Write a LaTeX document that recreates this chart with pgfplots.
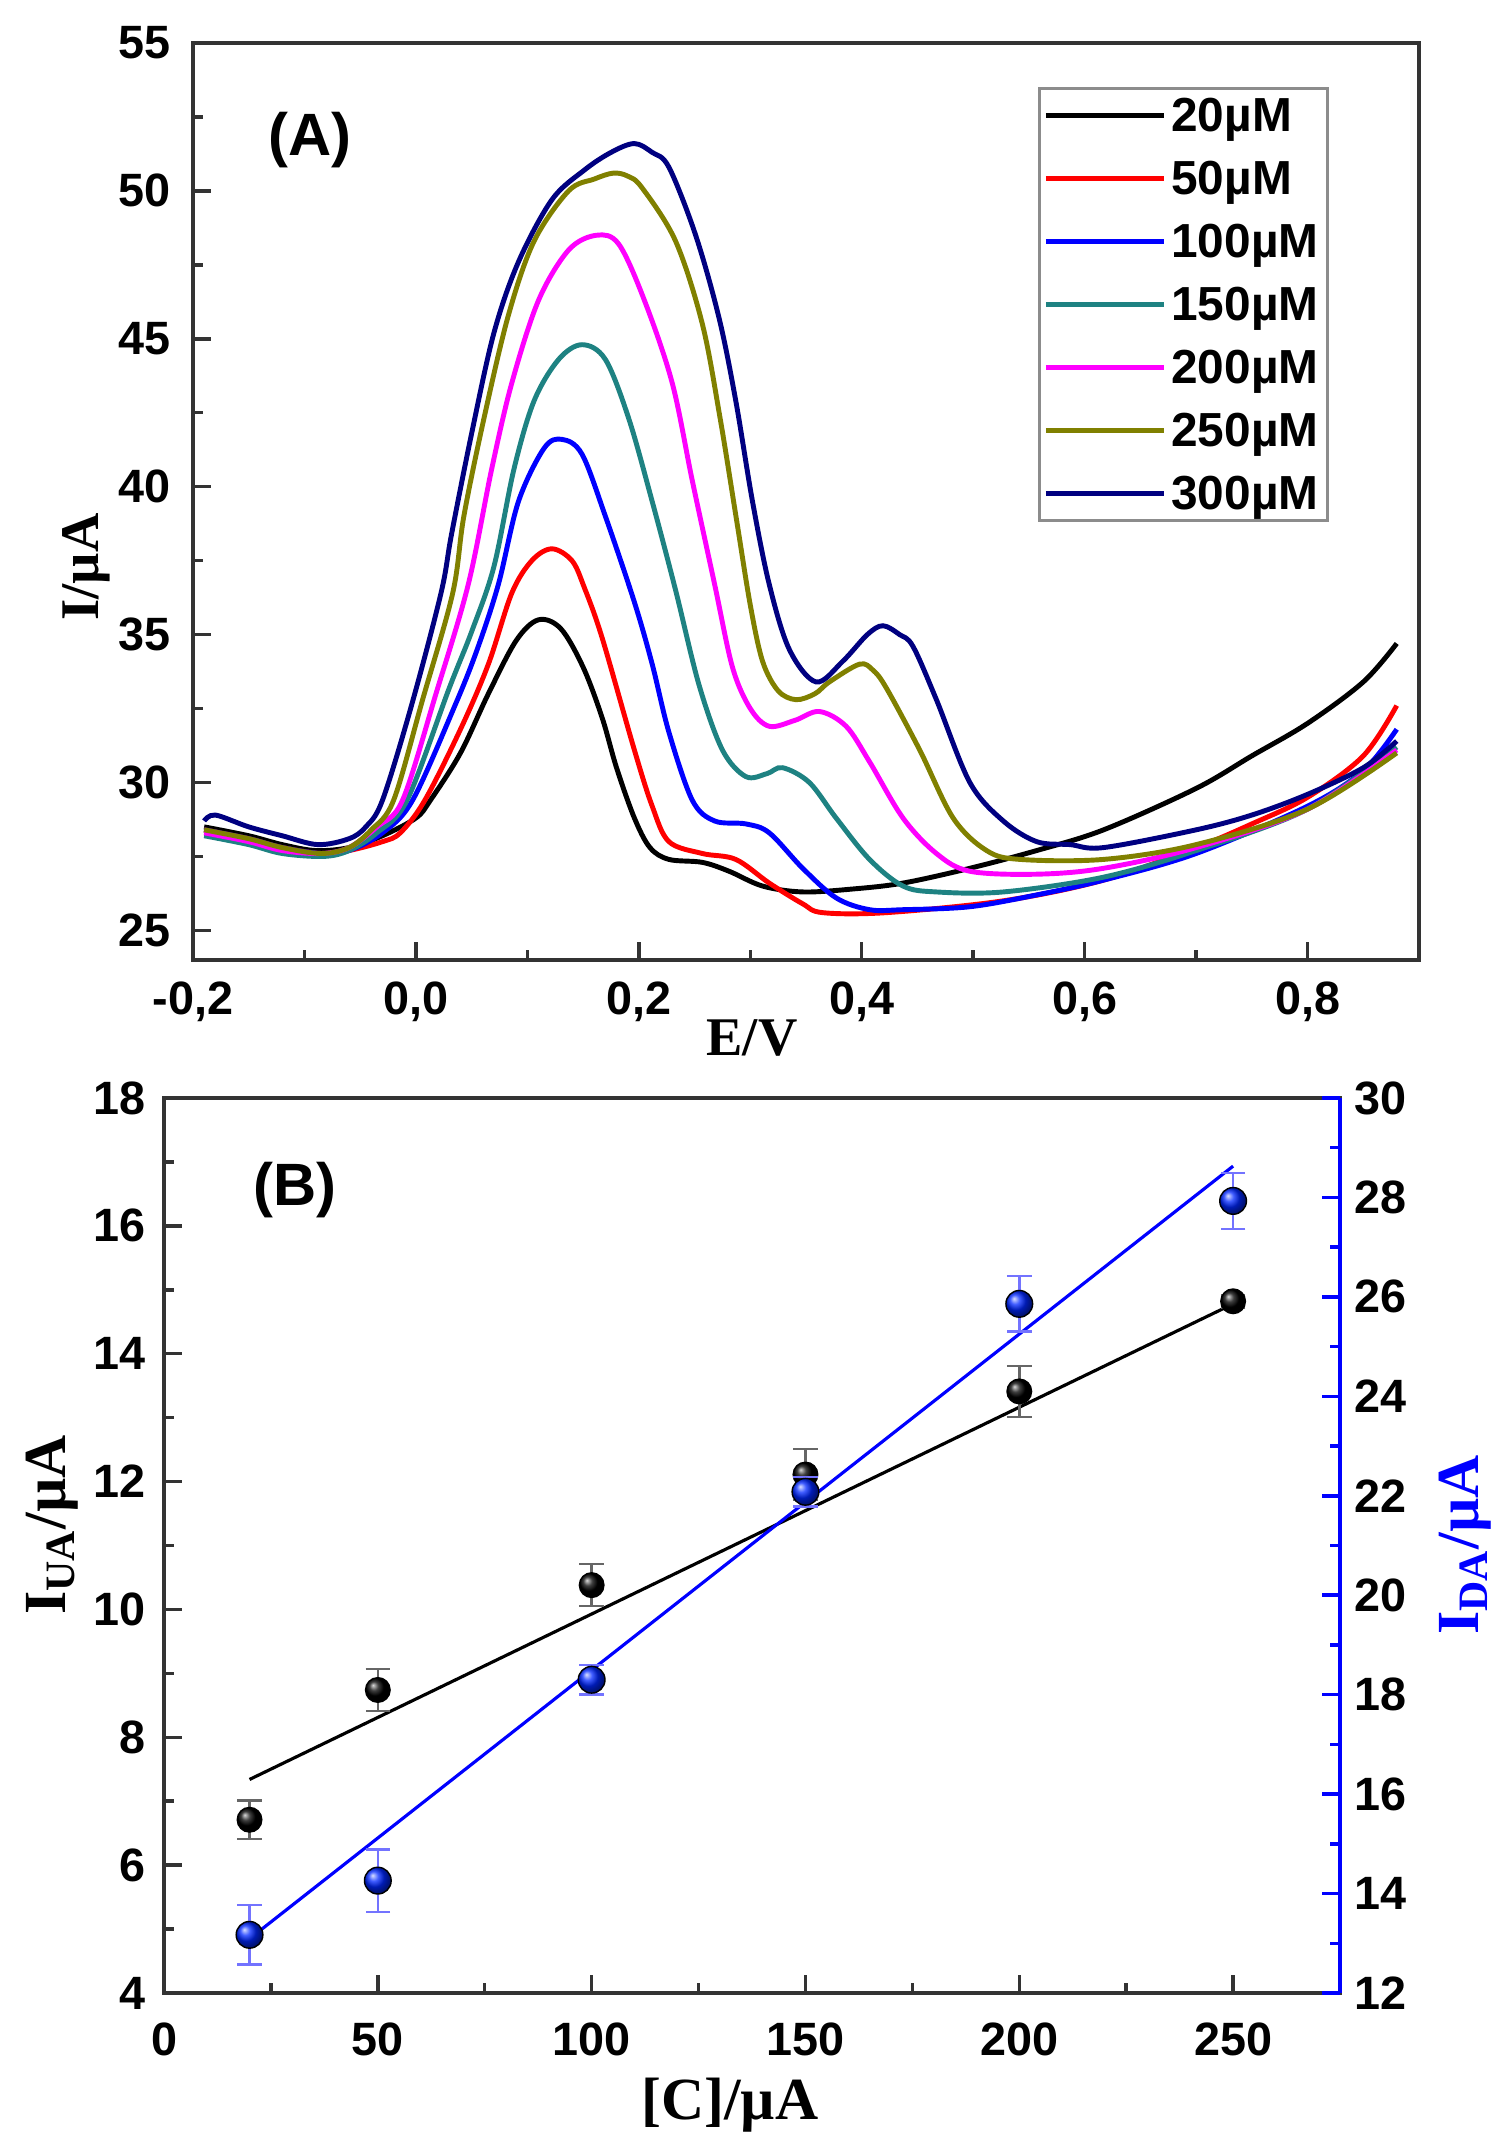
\documentclass[border=0pt]{standalone}
\usepackage{fontspec}
\setmainfont{Liberation Serif}
\newfontfamily\arial{Liberation Sans}
\usepackage{pgfplots}
\pgfplotsset{compat=1.18}
\definecolor{cteal}{RGB}{30,130,130}
\definecolor{colive}{RGB}{128,128,0}
\definecolor{cnavy}{RGB}{0,0,128}
\definecolor{cmag}{RGB}{255,0,255}
\definecolor{cred}{RGB}{255,0,0}
\definecolor{cblue}{RGB}{0,0,255}
\pgfplotsset{
  /pgf/number format/assume math mode=true,
  common/.style={
    scale only axis,
    axis line style={line width=1.1pt, black!80},
    every tick/.style={line width=1pt, black!80},
    major tick length=0.18cm, minor tick length=0.1cm,
    tick align=inside,
    tick label style={font=\arial\bfseries\fontsize{13.3}{14}\selectfont},
  }
}
\begin{document}
\begin{tikzpicture}
\path[use as bounding box] (0,0) rectangle (15,21.5);
% ---------------- Panel A ----------------
\begin{axis}[common,
  at={(1.93cm,11.90cm)}, anchor=south west,
  width=12.26cm, height=9.17cm,
  xmin=-0.2, xmax=0.9, ymin=24, ymax=55,
  xtick={-0.2,0,0.2,0.4,0.6,0.8}, minor x tick num=1,
  ytick={25,30,35,40,45,50,55}, minor y tick num=1,
  tick pos=left,
  xticklabel style={yshift=-2.7pt,/pgf/number format/.cd, fixed, fixed zerofill, precision=1, use comma},
  yticklabel style={xshift=-3pt},
  legend cell align=left,
  legend style={at={(rel axis cs:0.689,0.952)}, anchor=north west,
    draw=black!45, line width=0.8pt, inner sep=0.04cm,
    font=\arial\bfseries\fontsize{13.6}{14}\selectfont,
    nodes={inner sep=0.05cm, text height=0.34cm, text depth=0.02cm},
    row sep=0.17cm},
  legend image code/.code={\draw[#1, line width=1.5pt] (0cm,0cm) -- (1.18cm,0cm);},
  every axis plot/.append style={line width=1.4pt, smooth, tension=0.55},
]
\addplot[black] coordinates {
(-0.19,28.5) (-0.15,28.2) (-0.12,27.9) (-0.09,27.7) (-0.06,27.8) (-0.03,28.2) (0.0,28.8) (0.013,29.4)
(0.04,31.0) (0.065,33.0) (0.09,34.8) (0.11,35.5) (0.13,35.2) (0.15,33.9) (0.167,32.2) (0.18,30.5)
(0.196,28.8) (0.21,27.8) (0.227,27.4) (0.257,27.3) (0.281,27.0) (0.311,26.5) (0.347,26.3) (0.392,26.4)
(0.437,26.6) (0.497,27.1) (0.557,27.7) (0.617,28.4) (0.7,29.8) (0.75,30.9) (0.8,32.0) (0.85,33.4) (0.88,34.7)};
\addlegendentry{20µM}
\addplot[cred] coordinates {
(-0.19,28.4) (-0.15,28.1) (-0.12,27.8) (-0.085,27.6) (-0.06,27.7) (-0.03,28.0) (-0.014,28.3) (0.008,29.4)
(0.04,31.8) (0.065,34.0) (0.086,36.4) (0.104,37.5) (0.122,37.9) (0.14,37.5) (0.151,36.6) (0.167,34.9)
(0.196,31.1) (0.212,29.2) (0.227,28.0) (0.257,27.6) (0.287,27.4) (0.317,26.6) (0.347,25.9) (0.365,25.6)
(0.422,25.6) (0.527,26.0) (0.617,26.7) (0.7,27.8) (0.75,28.6) (0.8,29.5) (0.85,30.9) (0.88,32.6)};
\addlegendentry{50µM}
\addplot[cblue] coordinates {
(-0.19,28.4) (-0.15,28.1) (-0.12,27.8) (-0.085,27.6) (-0.06,27.7) (-0.03,28.3) (-0.003,29.4) (0.035,32.6)
(0.055,34.5) (0.074,36.7) (0.092,39.5) (0.115,41.3) (0.131,41.6) (0.149,41.1) (0.17,39.0) (0.196,36.1)
(0.212,34.0) (0.227,31.7) (0.248,29.4) (0.268,28.7) (0.296,28.6) (0.317,28.3) (0.347,27.1) (0.377,26.1)
(0.407,25.7) (0.437,25.7) (0.497,25.8) (0.557,26.2) (0.617,26.7) (0.7,27.6) (0.8,29.2) (0.85,30.4) (0.88,31.8)};
\addlegendentry{100µM}
\addplot[cteal] coordinates {
(-0.19,28.2) (-0.15,27.9) (-0.12,27.6) (-0.083,27.5) (-0.06,27.7) (-0.035,28.3) (-0.008,29.4) (0.03,33.2)
(0.05,35.1) (0.07,37.3) (0.088,40.6) (0.106,42.9) (0.128,44.3) (0.149,44.8) (0.17,44.3) (0.191,42.3)
(0.212,39.5) (0.233,36.5) (0.254,33.3) (0.275,31.1) (0.296,30.2) (0.315,30.3) (0.329,30.5) (0.353,30.0)
(0.377,28.8) (0.407,27.4) (0.437,26.5) (0.467,26.3) (0.527,26.3) (0.617,26.8) (0.7,27.7) (0.8,29.1) (0.88,31.2)};
\addlegendentry{150µM}
\addplot[cmag] coordinates {
(-0.19,28.3) (-0.15,28.0) (-0.12,27.7) (-0.085,27.6) (-0.06,27.8) (-0.035,28.5) (-0.012,29.4) (0.018,33.0)
(0.047,36.7) (0.068,40.6) (0.086,43.5) (0.11,46.3) (0.137,48.0) (0.162,48.5) (0.182,48.2) (0.205,46.3)
(0.23,43.5) (0.248,40.2) (0.268,36.7) (0.284,33.9) (0.3,32.5) (0.317,31.9) (0.34,32.1) (0.362,32.4)
(0.386,31.9) (0.407,30.7) (0.437,28.8) (0.467,27.6) (0.497,27.0) (0.557,26.9) (0.617,27.1) (0.7,27.8) (0.8,29.1) (0.88,31.1)};
\addlegendentry{200µM}
\addplot[colive] coordinates {
(-0.19,28.4) (-0.15,28.1) (-0.12,27.8) (-0.085,27.6) (-0.06,27.8) (-0.04,28.4) (-0.02,29.4) (0.006,32.8)
(0.033,36.4) (0.043,39.0) (0.061,42.3) (0.083,45.8) (0.106,48.3) (0.137,50.0) (0.16,50.4) (0.177,50.6)
(0.19,50.5) (0.203,50.1) (0.233,48.3) (0.257,45.5) (0.273,42.3) (0.288,38.8) (0.3,36.0) (0.311,34.1)
(0.325,33.1) (0.341,32.8) (0.358,33.0) (0.371,33.4) (0.398,34.0) (0.41,33.8) (0.422,33.2) (0.452,31.1)
(0.482,28.8) (0.512,27.7) (0.542,27.4) (0.617,27.4) (0.7,27.9) (0.8,29.1) (0.88,31.0)};
\addlegendentry{250µM}
\addplot[cnavy] coordinates {
(-0.19,28.7) (-0.18,28.9) (-0.15,28.5) (-0.12,28.2) (-0.088,27.9) (-0.06,28.1) (-0.045,28.5) (-0.03,29.4)
(-0.004,32.6) (0.0225,36.4) (0.032,38.4) (0.05,41.8) (0.07,45.2) (0.092,47.6) (0.122,49.7) (0.151,50.7)
(0.175,51.3) (0.196,51.6) (0.212,51.3) (0.227,50.8) (0.251,48.5) (0.272,45.7) (0.287,42.9) (0.302,39.5)
(0.317,36.7) (0.335,34.5) (0.359,33.4) (0.383,34.1) (0.405,35.0) (0.419,35.3) (0.434,35.0) (0.446,34.6)
(0.467,32.8) (0.497,30.0) (0.527,28.7) (0.557,28.0) (0.587,27.9) (0.617,27.8) (0.7,28.4) (0.75,28.9)
(0.8,29.6) (0.85,30.5) (0.88,31.4)};
\addlegendentry{300µM}
\end{axis}
% ---------------- Panel B, left axis ----------------
\begin{axis}[common,
  at={(1.64cm,1.57cm)}, anchor=south west,
  width=11.76cm, height=8.95cm,
  xmin=0, xmax=275, ymin=4, ymax=18,
  xtick={0,50,100,150,200,250}, minor x tick num=1,
  ytick={4,6,...,18}, minor y tick num=1,
  tick pos=left,
  xticklabel style={yshift=-5pt},
  yticklabel style={xshift=-1.6pt},
]
\addplot[black, line width=0.9pt] coordinates {(20,7.34) (250,14.78)};
\addplot[only marks, mark=ball, mark size=3.5pt, mark options={ball color=black},
  error bars/.cd, y dir=both, y explicit,
  error bar style={black!60, line width=0.7pt},
  error mark options={rotate=90, mark size=3.5pt, black!60, line width=0.7pt}]
  table[x=x, y=y, y error=e] {
x y e
20 6.71 0.3
50 8.74 0.33
100 10.38 0.33
150 12.11 0.4
200 13.41 0.4
250 14.82 0.1
};
\end{axis}
% ---------------- Panel B, right axis ----------------
\begin{axis}[common,
  at={(1.64cm,1.57cm)}, anchor=south west,
  width=11.76cm, height=8.95cm,
  xmin=0, xmax=275, ymin=12, ymax=30,
  axis x line=none, axis y line*=right,
  y axis line style={cblue, line width=1.1pt},
  ytick={12,14,...,30}, minor y tick num=1,
  every tick/.style={line width=1pt, cblue},
  yticklabel style={xshift=0.7pt},
]
\addplot[cblue, line width=0.9pt] coordinates {(20,13.09) (250,28.63)};
\addplot[only marks, mark=ball, mark size=3.8pt, mark options={ball color=cblue!85!cyan},
  error bars/.cd, y dir=both, y explicit,
  error bar style={cblue!55, line width=0.7pt},
  error mark options={rotate=90, mark size=3.5pt, cblue!55, line width=0.7pt}]
  table[x=x, y=y, y error=e] {
x y e
20 13.17 0.6
50 14.26 0.63
100 18.30 0.3
150 22.08 0.3
200 25.86 0.56
250 27.93 0.56
};
\end{axis}
% ---------------- Labels ----------------
\node[font=\arial\bfseries\fontsize{17}{18}\selectfont] at (3.10,20.10) {(A)};
\node[font=\arial\bfseries\fontsize{17}{18}\selectfont] at (2.95,9.60) {(B)};
\node[font=\bfseries\fontsize{15.5}{16}\selectfont, rotate=90] at (0.86,15.83) {I/µA};
\node[font=\bfseries\fontsize{15.5}{16}\selectfont] at (7.52,11.12) {E/V};
\node[font=\bfseries\fontsize{17}{18}\selectfont] at (7.30,0.45) {[C]/µA};
\node[font=\bfseries\fontsize{17}{18}\selectfont, rotate=90] at (0.52,6.25) {I\textsubscript{UA}/µA};
\node[font=\bfseries\fontsize{17}{18}\selectfont, rotate=90, text=cblue] at (14.65,6.05) {I\textsubscript{DA}/µA};
\end{tikzpicture}
\end{document}
